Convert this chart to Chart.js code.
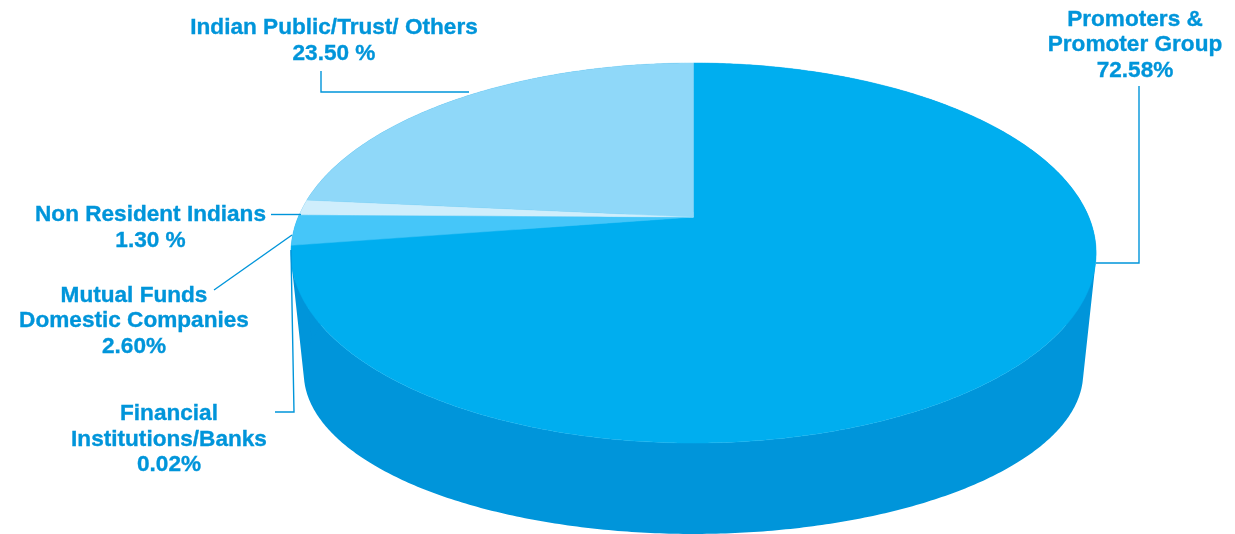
<!DOCTYPE html>
<html>
<head>
<meta charset="utf-8">
<title>Shareholding pattern</title>
<script src="https://cdn.jsdelivr.net/npm/chart.js@4"></script>
<style>
  html, body { margin: 0; padding: 0; background: #fff; overflow: hidden; }
  canvas { display: block; }
</style>
</head>
<body>
<canvas id="pie" width="1235" height="534"></canvas>
<script>
// Shareholding categories, clockwise from twelve o'clock
const categories = [
  'Promoters & Promoter Group',
  'Financial Institutions/Banks',
  'Mutual Funds Domestic Companies',
  'Non Resident Indians',
  'Indian Public/Trust/ Others'
];
const shares = [72.58, 0.02, 2.60, 1.30, 23.50];
const shareLabels = ['72.58%', '0.02%', '2.60%', '1.30 %', '23.50 %'];
const topColors = ['#00aeef', '#00aeef', '#45c6f9', '#cfeefc', '#8fd8f9'];
const wallColors = ['#0095da', '#0095da', '#0095da', '#0095da', '#0095da'];

const INK = '#0095da';

// Tilted-disc projection: the pie's centre sits above the centre of its rim ellipse
const DISC = { spanX: 395.3, spanY: 183.2, tilt: 0.1895 };
// Lower rim of the drum, expressed relative to the upper rim ellipse
const RIM = { centreX: 693.5, centreY: 253, scaleX: 0.968, scaleY: 0.847, lowerY: 373 };

// Callout text blocks and their leader lines, in canvas pixels
const callouts = [
  { x: 1135, ys: [20, 45, 71], lines: ['Promoters &', 'Promoter Group'], share: 0,
    leader: [[1139, 86], [1139, 263], [1096, 263]] },
  { x: 169, ys: [414, 440, 465], lines: ['Financial', 'Institutions/Banks'], share: 1,
    leader: [[275, 412], [294, 412], [291, 250]] },
  { x: 134, ys: [296, 321, 347], lines: ['Mutual Funds', 'Domestic Companies'], share: 2,
    leader: [[214, 290], [292, 235]] },
  { x: 150.5, ys: [215, 241], lines: ['Non Resident Indians'], share: 3,
    leader: [[271, 214.5], [301, 214.5]] },
  { x: 334, ys: [28, 54], lines: ['Indian Public/Trust/ Others'], share: 4,
    leader: [[321, 71], [321, 92], [469, 92]] }
];

const { ArcElement, PieController } = Chart;

// Arc that projects its sweep onto the tilted disc instead of a flat circle
class TiltedArc extends ArcElement {
  static id = 'tiltedArc';

  rimPoint(angle) {
    const u = Math.cos(angle);
    const v = -Math.sin(angle);
    const w = 1 + DISC.tilt * v;
    return [this.x + DISC.spanX * u / w, this.y - DISC.spanY * v / w];
  }

  lowerPoint(angle) {
    const [px, py] = this.rimPoint(angle);
    return [
      RIM.centreX + (px - RIM.centreX) * RIM.scaleX,
      RIM.lowerY + (py - RIM.centreY) * RIM.scaleY
    ];
  }

  sweep() {
    const steps = Math.max(2, Math.ceil((this.endAngle - this.startAngle) / 0.01));
    const angles = [];
    for (let i = 0; i <= steps; i++) {
      angles.push(this.startAngle + (this.endAngle - this.startAngle) * i / steps);
    }
    return angles;
  }

  // One path of equally wound quads, so the ribbon fills as a seamless union
  drawWall(ctx, color) {
    const angles = this.sweep();
    ctx.beginPath();
    for (let i = 1; i < angles.length; i++) {
      const quad = [
        this.rimPoint(angles[i - 1]),
        this.rimPoint(angles[i]),
        this.lowerPoint(angles[i]),
        this.lowerPoint(angles[i - 1])
      ];
      let area = 0;
      quad.forEach(([x, y], k) => {
        const [nx, ny] = quad[(k + 1) % 4];
        area += x * ny - nx * y;
      });
      if (area < 0) quad.reverse();
      quad.forEach(([x, y], k) => (k ? ctx.lineTo(x, y) : ctx.moveTo(x, y)));
      ctx.closePath();
    }
    ctx.fillStyle = color;
    ctx.fill('nonzero');
  }

  draw(ctx) {
    ctx.save();
    ctx.beginPath();
    ctx.moveTo(this.x, this.y);
    for (const angle of this.sweep()) {
      const [px, py] = this.rimPoint(angle);
      ctx.lineTo(px, py);
    }
    ctx.closePath();
    ctx.fillStyle = this.options.backgroundColor;
    ctx.strokeStyle = this.options.backgroundColor;
    ctx.lineWidth = 0.5;
    ctx.fill();
    ctx.stroke();
    ctx.restore();
  }
}

class TiltedPieController extends PieController {
  static id = 'tiltedPie';
  static defaults = { dataElementType: 'tiltedArc' };
}

Chart.register(TiltedArc, TiltedPieController);

// Side wall of the drum, painted beneath the slices
const drumWall = {
  id: 'drumWall',
  beforeDatasetsDraw(chart) {
    const { ctx } = chart;
    const meta = chart.getDatasetMeta(0);
    ctx.save();
    meta.data.forEach((arc, i) => arc.drawWall(ctx, chart.data.datasets[0].wallColors[i]));
    ctx.restore();
  }
};

// Leader lines and text blocks around the pie
const calloutLabels = {
  id: 'calloutLabels',
  afterDatasetsDraw(chart) {
    const { ctx } = chart;
    ctx.save();
    ctx.strokeStyle = INK;
    ctx.lineWidth = 1.4;
    for (const c of callouts) {
      ctx.beginPath();
      c.leader.forEach(([x, y], i) => (i ? ctx.lineTo(x, y) : ctx.moveTo(x, y)));
      ctx.stroke();
    }
    ctx.fillStyle = INK;
    ctx.strokeStyle = INK;
    ctx.lineWidth = 0.35;
    ctx.font = 'bold 22.6px "Liberation Sans", Arial, sans-serif';
    ctx.textAlign = 'center';
    ctx.textBaseline = 'middle';
    for (const c of callouts) {
      const rows = [...c.lines, shareLabels[c.share]];
      rows.forEach((row, i) => {
        ctx.fillText(row, c.x, c.ys[i]);
        ctx.strokeText(row, c.x, c.ys[i]);
      });
    }
    ctx.restore();
  }
};

new Chart(document.getElementById('pie'), {
  type: 'tiltedPie',
  data: {
    labels: categories,
    datasets: [{
      data: shares,
      backgroundColor: topColors,
      wallColors: wallColors,
      borderWidth: 0,
      clip: false
    }]
  },
  options: {
    responsive: false,
    animation: false,
    layout: { padding: { left: 152, right: 0, top: 0, bottom: 100 } },
    plugins: { legend: { display: false }, tooltip: { enabled: false }, title: { display: false } }
  },
  plugins: [drumWall, calloutLabels]
});
</script>
</body>
</html>
